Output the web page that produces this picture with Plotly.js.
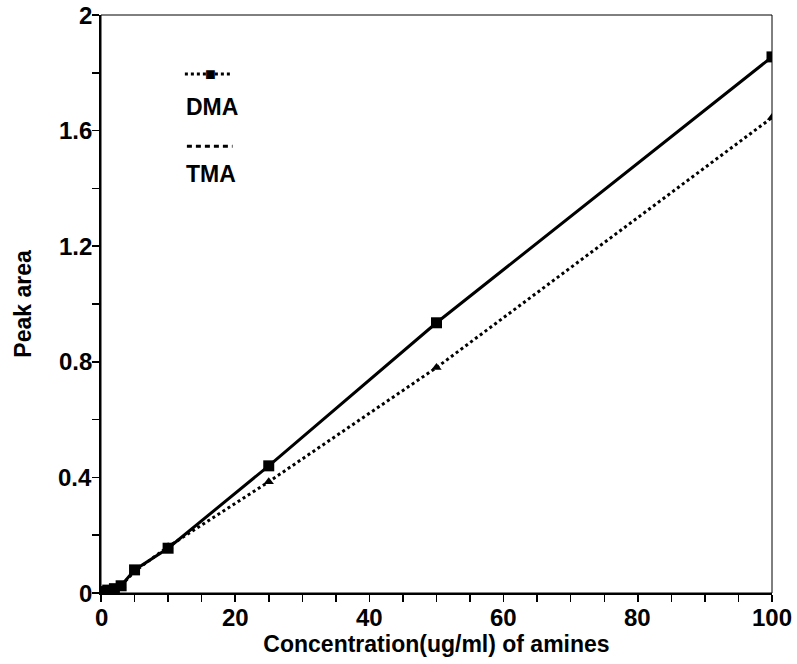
<!DOCTYPE html>
<html><head><meta charset="utf-8">
<script src="https://cdn.plot.ly/plotly-3.0.1.min.js"></script>
<style>html,body{margin:0;padding:0;background:#fff}</style>
</head><body>
<div id="chart" style="width:797px;height:664px"></div>
<script>
const concentration = [0.5, 1, 2, 3, 5, 10, 25, 50, 100];
const dmaArea = [0.005, 0.01, 0.015, 0.025, 0.08, 0.155, 0.44, 0.935, 1.855];
const tmaArea = [0.004, 0.008, 0.015, 0.025, 0.075, 0.16, 0.385, 0.78, 1.645];
const xTickVals = [0, 20, 40, 60, 80, 100];
const xTickText = ['0', '20', '40', '60', '80', '100'];
const yTickVals = [0, 0.4, 0.8, 1.2, 1.6, 2];
const yTickText = ['0', '0.4', '0.8', '1.2', '1.6', '2'];
const xMinorStep = 5, yMinorStep = 0.2;

const fontFam = '"Liberation Sans", Arial, Helvetica, sans-serif';
const tickFont = {family: fontFam, size: 24, color: '#000', weight: 'bold'};

const traces = [
  {x: concentration, y: dmaArea, name: 'DMA', mode: 'lines+markers',
   line: {color: '#000', width: 3}, marker: {symbol: 'square', size: 11, color: '#000'}},
  {x: concentration, y: tmaArea, name: 'TMA', mode: 'lines+markers',
   line: {color: '#000', width: 3, dash: 'dot'}, marker: {symbol: 'triangle-up', size: 9, color: '#000'}}
];

const tickAnnotations = [
  ...xTickVals.map((v, i) => ({xref: 'x', yref: 'paper', x: v, y: 0, text: '<b>' + xTickText[i] + '</b>',
    showarrow: false, xanchor: 'center', yanchor: 'top', yshift: -9, font: tickFont})),
  ...yTickVals.map((v, i) => ({xref: 'paper', yref: 'y', x: 0, y: v, text: '<b>' + yTickText[i] + '</b>',
    showarrow: false, xanchor: 'right', yanchor: 'middle', xshift: -7, font: tickFont}))
];

const layout = {
  width: 797, height: 664,
  margin: {l: 101, r: 25, t: 15, b: 71},
  paper_bgcolor: '#fff', plot_bgcolor: '#fff',
  showlegend: false,
  font: {family: fontFam, color: '#000', size: 21},
  xaxis: {
    range: [0, 100], tickmode: 'array', tickvals: xTickVals, showticklabels: false,
    ticks: 'outside', ticklen: 7, tickwidth: 1.5, tickcolor: '#000',
    minor: {tickmode: 'linear', tick0: 0, dtick: xMinorStep, ticks: 'outside', ticklen: 7, tickwidth: 1.5, tickcolor: '#000', showgrid: false},
    showline: true, linecolor: '#000', linewidth: 2, showgrid: false, zeroline: false,
    automargin: true,
    title: {text: '<b>Concentration(ug/ml) of amines</b>', font: {family: fontFam, size: 23, color: '#000'}, standoff: 35}
  },
  yaxis: {
    range: [0, 2], tickmode: 'array', tickvals: yTickVals, showticklabels: false,
    ticks: 'outside', ticklen: 7, tickwidth: 1.5, tickcolor: '#000',
    minor: {tickmode: 'linear', tick0: 0, dtick: yMinorStep, ticks: 'outside', ticklen: 7, tickwidth: 1.5, tickcolor: '#000', showgrid: false},
    showline: true, linecolor: '#000', linewidth: 2, showgrid: false, zeroline: false,
    automargin: true,
    title: {text: '<b>Peak area</b>', font: {family: fontFam, size: 23, color: '#000'}, standoff: 54}
  },
  shapes: [
    {type: 'rect', xref: 'paper', yref: 'paper', x0: 0, x1: 1, y0: 0, y1: 1, line: {color: '#000', width: 1}},
    {type: 'line', xref: 'paper', yref: 'paper', x0: 0.125, x1: 0.196, y0: 0.898, y1: 0.898, line: {color: '#000', width: 3, dash: 'dot'}},
    {type: 'line', xref: 'paper', yref: 'paper', x0: 0.128, x1: 0.196, y0: 0.773, y1: 0.773, line: {color: '#000', width: 3, dash: '5px,4px'}}
  ],
  annotations: [
    ...tickAnnotations,
    {xref: 'paper', yref: 'paper', x: 0.163, y: 0.898, text: '■', showarrow: false, font: {size: 18, color: '#000'}, xanchor: 'center', yanchor: 'middle'},
    {xref: 'paper', yref: 'paper', x: 0.124, y: 0.84, text: '<b>DMA</b>', showarrow: false, xanchor: 'left', yanchor: 'middle', font: {family: fontFam, size: 23, color: '#000'}},
    {xref: 'paper', yref: 'paper', x: 0.124, y: 0.725, text: '<b>TMA</b>', showarrow: false, xanchor: 'left', yanchor: 'middle', font: {family: fontFam, size: 23, color: '#000'}}
  ]
};

Plotly.newPlot('chart', traces, layout, {displayModeBar: false, staticPlot: true});
</script>
</body></html>
